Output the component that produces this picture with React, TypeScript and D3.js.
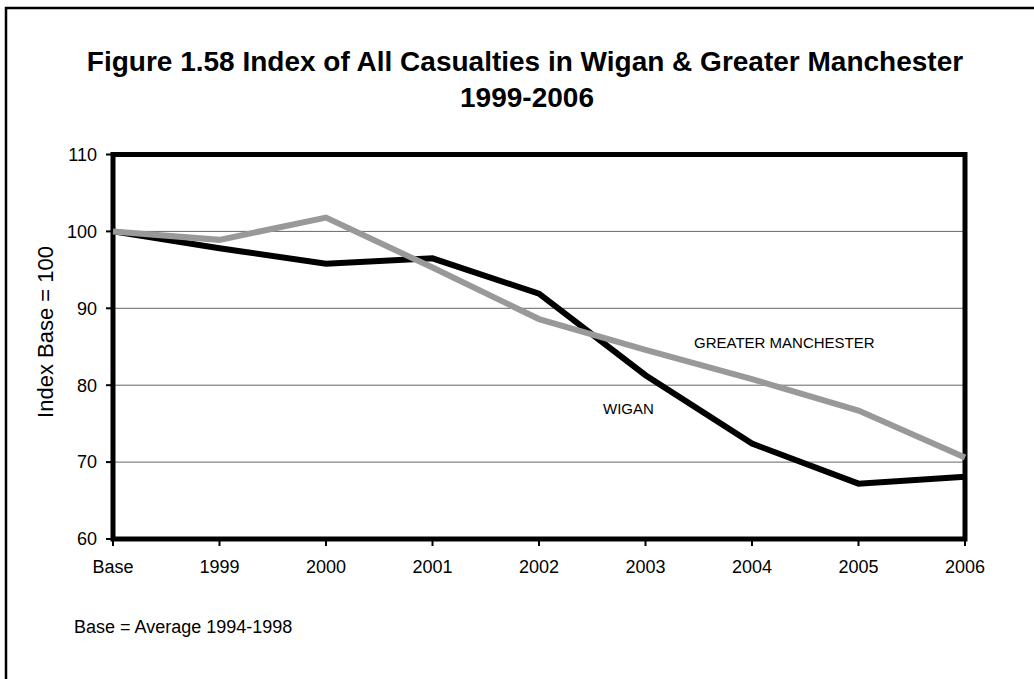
import React from "react";
import * as d3 from "d3";

const categories = ["Base", "1999", "2000", "2001", "2002", "2003", "2004", "2005", "2006"];
const wigan = [100, 97.8, 95.8, 96.5, 91.9, 81.3, 72.4, 67.2, 68.1];
const greaterManchester = [100, 98.9, 101.8, 95.3, 88.6, 84.6, 80.8, 76.7, 70.6];
const yTicks = [60, 70, 80, 90, 100, 110];
const gridValues = [70, 80, 90, 100];

const FONT = "'Liberation Sans', Arial, Helvetica, sans-serif";

export default function App() {
  const W = 1034;
  const H = 679;
  const left = 113, right = 965, top = 154.5, bottom = 539;
  const x = d3.scalePoint<string>().domain(categories).range([left, right]);
  const y = d3.scaleLinear().domain([60, 110]).range([bottom, top]);

  const line = d3
    .line<number>()
    .x((_, i) => x(categories[i]) as number)
    .y((d) => y(d));

  return (
    <svg
      width={W}
      height={H}
      style={{ position: "absolute", left: 0, top: 0, display: "block", background: "#fff" }}
      fontFamily={FONT}
    >
      <rect x={0} y={0} width={W} height={H} fill="#fff" />
      {/* outer frame */}
      <path d={`M6,${H + 5} V8 H${W + 5}`} fill="none" stroke="#000" strokeWidth={2.5} />

      {/* title */}
      <text x={525} y={71} textAnchor="middle" fontSize={28} fontWeight="bold" fill="#000">
        Figure 1.58 Index of All Casualties in Wigan &amp; Greater Manchester
      </text>
      <text x={527} y={107} textAnchor="middle" fontSize={28} fontWeight="bold" fill="#000">
        1999-2006
      </text>

      {/* gridlines */}
      {gridValues.map((v) => (
        <line key={v} x1={left} x2={right} y1={y(v)} y2={y(v)} stroke="#666" strokeWidth={1} />
      ))}

      {/* y ticks & labels */}
      {yTicks.map((v) => (
        <g key={v}>
          <line x1={106} x2={left} y1={y(v)} y2={y(v)} stroke="#000" strokeWidth={2} />
          <text x={97} y={y(v)} dy="0.35em" textAnchor="end" fontSize={18} fill="#000">
            {v}
          </text>
        </g>
      ))}

      {/* x ticks & labels */}
      {categories.map((c) => (
        <g key={c}>
          <line x1={x(c)} x2={x(c)} y1={bottom} y2={bottom + 7} stroke="#000" strokeWidth={2} />
          <text x={x(c)} y={573} textAnchor="middle" fontSize={18} fill="#000">
            {c}
          </text>
        </g>
      ))}

      {/* plot border */}
      <rect x={left} y={top} width={right - left} height={bottom - top} fill="none" stroke="#000" strokeWidth={5} />

      {/* series */}
      <path d={line(wigan) || ""} fill="none" stroke="#000" strokeWidth={6} strokeLinejoin="miter" />
      <path d={line(greaterManchester) || ""} fill="none" stroke="#999" strokeWidth={6} strokeLinejoin="miter" />

      {/* series labels */}
      <text x={694} y={348} fontSize={15} fill="#000">GREATER MANCHESTER</text>
      <text x={603} y={414} fontSize={15} fill="#000">WIGAN</text>

      {/* y axis title */}
      <text transform="translate(53,332) rotate(-90)" textAnchor="middle" fontSize={22} fill="#000">
        Index Base = 100
      </text>

      {/* footnote */}
      <text x={74} y={633} fontSize={18} fill="#000">Base = Average 1994-1998</text>
    </svg>
  );
}
